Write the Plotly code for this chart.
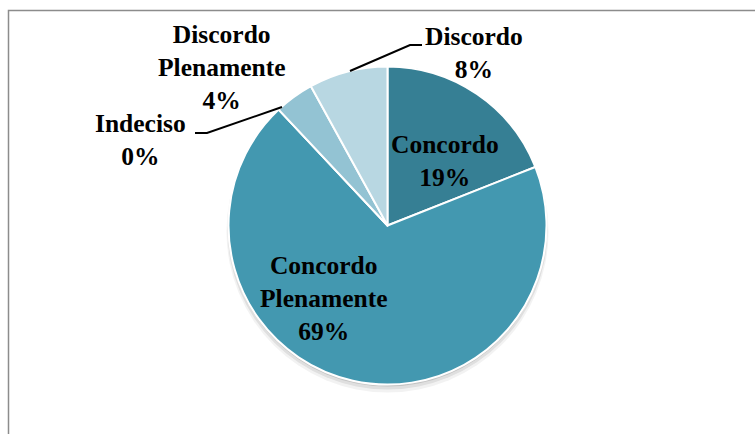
import plotly.graph_objects as go

# Survey responses (percent of respondents)
labels = ["Concordo", "Concordo Plenamente", "Indeciso", "Discordo Plenamente", "Discordo"]
values = [19, 69, 0, 4, 8]
colors = ["#367F94", "#4398B0", "#3F8CA3", "#93C3D3", "#B8D7E2"]

W, H = 755, 434
CX, CY, R = 387.5, 225.5, 159


def px(x):
    return x / W


def py(y):
    return 1 - y / H


fig = go.Figure()
fig.add_trace(go.Pie(
    labels=labels,
    values=values,
    sort=False,
    direction="clockwise",
    rotation=0,
    marker=dict(colors=colors, line=dict(color="white", width=2)),
    textinfo="none",
    hoverinfo="label+percent",
    showlegend=False,
    domain=dict(x=[px(CX - R), px(CX + R)], y=[py(CY + R), py(CY - R)]),
))

# label anchor points (pixel centres) for each slice
label_pos = {
    "Concordo": (445, 161),
    "Concordo Plenamente": (323, 298),
    "Indeciso": (140, 140),
    "Discordo Plenamente": (221, 67),
    "Discordo": (474, 53),
}

font = dict(family="Liberation Serif", size=25.5, color="black", weight="bold")
for lab, val in zip(labels, values):
    x, y = label_pos[lab]
    fig.add_annotation(
        x=px(x), y=py(y), xref="paper", yref="paper",
        text=lab.replace(" ", "<br>") + "<br>" + f"{val}%",
        showarrow=False, font=font, align="center",
        xanchor="center", yanchor="middle",
    )

shapes = []
# soft shadow under the pie
for off, extra, alpha in [(6, 2, 0.05), (4, 1, 0.08), (2, 0, 0.12)]:
    shapes.append(dict(
        type="circle", xref="paper", yref="paper", layer="below",
        x0=px(CX - R - extra), x1=px(CX + R + extra),
        y0=py(CY + R + extra + off), y1=py(CY - R - extra + off),
        fillcolor=f"rgba(0,0,0,{alpha})", line=dict(width=0),
    ))
# leader lines
shapes.append(dict(type="path", xref="paper", yref="paper",
                   path=f"M {px(350)} {py(71)} L {px(410)} {py(45)} L {px(422)} {py(45)}",
                   line=dict(color="black", width=2)))
shapes.append(dict(type="path", xref="paper", yref="paper",
                   path=f"M {px(282)} {py(107)} L {px(207)} {py(133)} L {px(195)} {py(133)}",
                   line=dict(color="black", width=2)))
# chart area frame
shapes.append(dict(type="rect", xref="paper", yref="paper",
                   x0=px(8.5), x1=px(W + 5), y0=py(H + 5), y1=py(10.5),
                   line=dict(color="#8c8c8c", width=1.5)))

fig.update_layout(
    width=W, height=H,
    margin=dict(l=0, r=0, t=0, b=0),
    paper_bgcolor="white", plot_bgcolor="white",
    shapes=shapes,
)

fig.write_html("out.html")
